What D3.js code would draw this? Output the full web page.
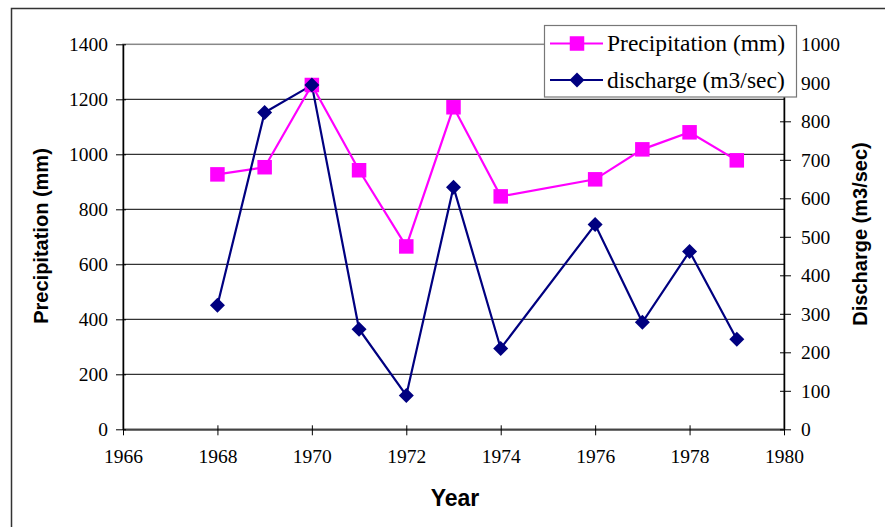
<!DOCTYPE html>
<html>
<head>
<meta charset="utf-8">
<script src="https://cdn.jsdelivr.net/npm/d3@7"></script>
<style>
  html, body { margin: 0; padding: 0; background: #fff; }
  svg { display: block; }
  .serif { font-family: "Liberation Serif", "Times New Roman", Times, serif; }
  .sansb { font-family: "Liberation Sans", Arial, Helvetica, sans-serif; font-weight: bold; }
</style>
</head>
<body>
<svg id="chart" width="885" height="527"></svg>
<script>
// ---- data ----
const years = [1968, 1969, 1970, 1971, 1972, 1973, 1974, 1976, 1977, 1978, 1979];
const precipitation = [927, 953, 1252, 942, 665, 1171, 847, 909, 1018, 1080, 978];
const discharge = [322, 823, 894, 260, 88, 629, 210, 532, 278, 462, 234];
const xTicks = [1966, 1968, 1970, 1972, 1974, 1976, 1978, 1980];
const leftTicks = [0, 200, 400, 600, 800, 1000, 1200, 1400];
const rightTicks = [0, 100, 200, 300, 400, 500, 600, 700, 800, 900, 1000];
const seriesNames = ["Precipitation (mm)", "discharge (m3/sec)"];

// ---- layout ----
const L = 123, R = 784, T = 44.3, B = 429.3;
const svg = d3.select("#chart");
const PINK = "#FF00FF", NAVY = "#000080";

const x = d3.scaleLinear().domain([1966, 1980]).range([L, R]);
const yL = d3.scaleLinear().domain([0, 1400]).range([B, T]);
const yR = d3.scaleLinear().domain([0, 1000]).range([B, T]);

// outer frame
svg.append("path").attr("d", "M11.5,527 L11.5,8.5 L885,8.5")
  .attr("fill", "none").attr("stroke", "#333").attr("stroke-width", 1.5);

// plot area border
svg.append("rect").attr("x", L).attr("y", T).attr("width", R - L).attr("height", B - T)
  .attr("fill", "none").attr("stroke", "#888").attr("stroke-width", 1.5);

// gridlines
svg.append("g").selectAll("line").data(leftTicks.filter(d => d > 0 && d < 1400)).join("line")
  .attr("x1", L).attr("x2", R).attr("y1", d => yL(d)).attr("y2", d => yL(d))
  .attr("stroke", "#000").attr("stroke-width", 1);

// axes
function styleAxis(g) {
  g.attr("font-family", null).attr("font-size", null);
  g.selectAll("text").attr("class", "serif").style("font-size", "19.5px").attr("fill", "#000");
  g.selectAll("line").attr("stroke", "#000").attr("stroke-width", 1);
}
const gx = svg.append("g").attr("transform", `translate(0,${B})`)
  .call(d3.axisBottom(x).tickValues(xTicks).tickFormat(d3.format("d")).tickSizeOuter(0).tickSizeInner(6).tickPadding(14));
gx.select(".domain").attr("stroke", "#444").attr("stroke-width", 2);
gx.selectAll(".tick line").attr("y1", -4);
styleAxis(gx);

const gl = svg.append("g").attr("transform", `translate(${L},0)`)
  .call(d3.axisLeft(yL).tickValues(leftTicks).tickFormat(d3.format("d")).tickSizeOuter(0).tickSizeInner(7).tickPadding(8));
gl.select(".domain").attr("stroke", "#000").attr("stroke-width", 1.5);
gl.selectAll(".tick line").attr("x1", 3);
styleAxis(gl);

const gr = svg.append("g").attr("transform", `translate(${R},0)`)
  .call(d3.axisRight(yR).tickValues(rightTicks).tickFormat(d3.format("d")).tickSizeOuter(0).tickSizeInner(7).tickPadding(10));
gr.select(".domain").attr("stroke", "#000").attr("stroke-width", 1.5);
gr.selectAll(".tick line").attr("x1", -4);
styleAxis(gr);

// lines
const pData = years.map((yr, i) => [yr, precipitation[i]]);
const dData = years.map((yr, i) => [yr, discharge[i]]);
svg.append("path").datum(pData)
  .attr("d", d3.line().x(d => x(d[0])).y(d => yL(d[1])))
  .attr("fill", "none").attr("stroke", PINK).attr("stroke-width", 2.2);
svg.append("path").datum(dData)
  .attr("d", d3.line().x(d => x(d[0])).y(d => yR(d[1])))
  .attr("fill", "none").attr("stroke", NAVY).attr("stroke-width", 2.2);

// markers
const sq = 14.5;
svg.append("g").selectAll("rect").data(pData).join("rect")
  .attr("x", d => x(d[0]) - sq / 2).attr("y", d => yL(d[1]) - sq / 2)
  .attr("width", sq).attr("height", sq).attr("fill", PINK);
const dm = 7.5;
const diamond = (cx, cy) => `M${cx},${cy - dm} L${cx + dm},${cy} L${cx},${cy + dm} L${cx - dm},${cy} Z`;
svg.append("g").selectAll("path").data(dData).join("path")
  .attr("d", d => diamond(x(d[0]), yR(d[1]))).attr("fill", NAVY);

// axis titles
svg.append("text").attr("class", "sansb").attr("transform", "translate(48,236) rotate(-90)")
  .attr("text-anchor", "middle").style("font-size", "20px").text("Precipitation (mm)");
svg.append("text").attr("class", "sansb").attr("transform", "translate(867,234) rotate(-90)")
  .attr("text-anchor", "middle").style("font-size", "20px").text("Discharge (m3/sec)");
svg.append("text").attr("class", "sansb").attr("x", 455).attr("y", 506)
  .attr("text-anchor", "middle").style("font-size", "23px").text("Year");

// legend
const lg = svg.append("g");
lg.append("rect").attr("x", 544.5).attr("y", 25.5).attr("width", 252).attr("height", 71.5)
  .attr("fill", "#fff").attr("stroke", "#777").attr("stroke-width", 1.2);
const rowsY = [43.5, 80];
const colors = [PINK, NAVY];
seriesNames.forEach((name, i) => {
  const cy = rowsY[i];
  lg.append("line").attr("x1", 550).attr("x2", 603).attr("y1", cy).attr("y2", cy)
    .attr("stroke", colors[i]).attr("stroke-width", 2.2);
  if (i === 0) {
    lg.append("rect").attr("x", 577 - sq / 2).attr("y", cy - sq / 2).attr("width", sq).attr("height", sq).attr("fill", PINK);
  } else {
    lg.append("path").attr("d", diamond(577, cy)).attr("fill", NAVY);
  }
  lg.append("text").attr("class", "serif").attr("x", 607).attr("y", cy + 7.5)
    .style("font-size", "23.5px").attr("fill", "#000").text(name);
});
</script>
</body>
</html>
